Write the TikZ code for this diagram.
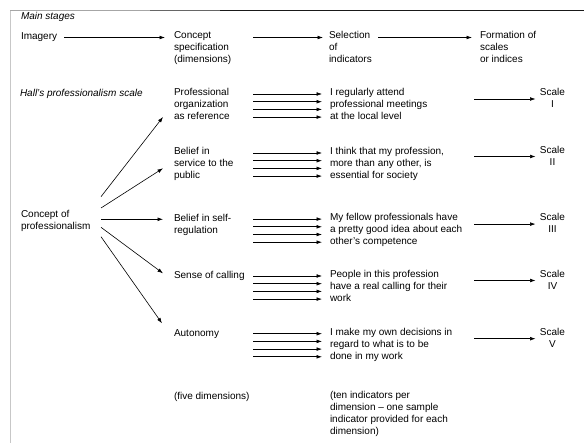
\documentclass[tikz,border=0pt]{standalone}
\usepackage{fontspec}
\setmainfont{Liberation Sans}
\usetikzlibrary{arrows.meta}
\begin{document}
\begin{tikzpicture}[x=1pt,y=-1pt,
  txt/.style={anchor=north west,inner sep=0pt,outer sep=0pt,align=left,
    font=\fontsize{10}{12}\selectfont,execute at begin node=\strut},
  itxt/.style={txt,font=\fontsize{10}{12}\selectfont\itshape},
  sc/.style={txt,anchor=north,align=center},
  arr/.style={line width=0.6pt,-{Latex[length=5.5pt,width=3.8pt]}}]
\useasboundingbox (0,0) rectangle (584,443);
\fill[white] (0,0) rectangle (584,443);
% frame rules
\draw[line width=0.5pt,black!35] (10,10.7) -- (150,10.7);
\draw[line width=0.8pt,black!60] (150,10.7) -- (220,10.7);
\draw[line width=1.3pt,black!90] (220,10.7) -- (584,10.7);
\draw[line width=0.8pt,black!22] (10,10.7) -- (10,443);
% header row
\node[itxt] (ms) at (21,11.1) {Main stages};
\node[txt] (img) at (21,31.5) {Imagery};
\node[txt] (c0) at (174,31.5) {Concept\\specification\\(dimensions)};
\node[txt] (s0) at (329,31.5) {Selection\\of\\indicators};
\node[txt] (f0) at (480,31.5) {Formation of\\scales\\or indices};
% left column
\node[itxt] (hall) at (20,88.5) {Hall's professionalism scale};
\node[txt] (cop) at (21,210.1) {Concept of\\professionalism};
% dimensions
\node[txt] (d1) at (174,88.5) {Professional\\organization\\as reference};
\node[txt] (d2) at (174,147.5) {Belief in\\service to the\\public};
\node[txt] (d3) at (174,214.5) {Belief in self-\\regulation};
\node[txt] (d4) at (174,270.5) {Sense of calling};
\node[txt] (d5) at (174,328.2) {Autonomy};
\node[txt] (five) at (174,391.5) {(five dimensions)};
% indicators
\node[txt] (i1) at (330,88.5) {I regularly attend\\professional meetings\\at the local level};
\node[txt] (i2) at (330,147.5) {I think that my profession,\\more than any other, is\\essential for society};
\node[txt] (i3) at (330,213.6) {My fellow professionals have\\a pretty good idea about each\\other's competence};
\node[txt] (i4) at (330,270.5) {People in this profession\\have a real calling for their\\work};
\node[txt] (i5) at (330,328.2) {I make my own decisions in\\regard to what is to be\\done in my work};
\node[txt] (ten) at (330,391.5) {(ten indicators per\\dimension -- one sample\\indicator provided for each\\dimension)};
% scales
\node[sc] (S1) at (552.5,88.5) {Scale\\I};
\node[sc] (S2) at (552.5,146) {Scale\\II};
\node[sc] (S3) at (552.5,213.6) {Scale\\III};
\node[sc] (S4) at (552.5,270) {Scale\\IV};
\node[sc] (S5) at (552.5,328.2) {Scale\\V};
% header arrows
\draw[arr] ([xshift=7pt]img.east) -- ([xshift=-9pt]img.east -| c0.west);
\draw[arr] ([shift={(-76,6)}]s0.north west) -- ([shift={(-6,6)}]s0.north west);
\draw[arr] ([shift={(-102,6)}]f0.north west) -- ([shift={(-8,6)}]f0.north west);
% fan arrows
\draw[arr] ([shift={(80,-13.4)}]cop.north west) -- ([shift={(-11,28.5)}]d1.north west);
\draw[arr] ([shift={(80,-2.1)}]cop.north west) -- ([shift={(-11,20.8)}]d2.north west);
\draw[arr] ([shift={(80,9.2)}]cop.north west) -- ([shift={(-11,4.8)}]d3.north west);
\draw[arr] ([shift={(80,17.2)}]cop.north west) -- ([shift={(-11,2.8)}]d4.north west);
\draw[arr] ([shift={(80,26.6)}]cop.north west) -- ([shift={(-12,-4.9)}]d5.north west);
% indicator arrows
\foreach \r in {1,...,5}{
  \foreach \k in {0,...,3}{
    \draw[arr] ([shift={(-77,5.5+7.7*\k)}]i\r.north west) -- ([shift={(-8,5.5+7.7*\k)}]i\r.north west);
  }
  \draw[arr] ([shift={(-78.5,10.5)}]S\r.north) -- ([shift={(-17,10.5)}]S\r.north);
}
\end{tikzpicture}
\end{document}
